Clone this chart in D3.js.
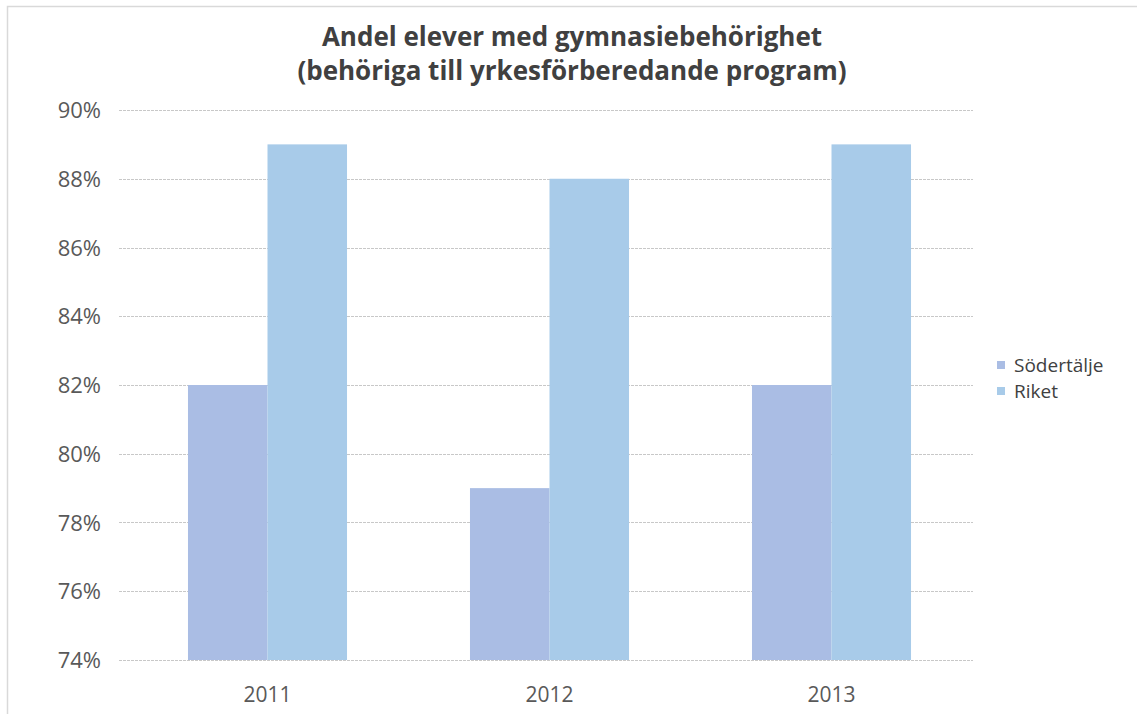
<!DOCTYPE html>
<html>
<head>
<meta charset="utf-8">
<script src="https://cdn.jsdelivr.net/npm/d3@7"></script>
<style>
  html, body { margin: 0; padding: 0; background: #fff; }
  svg { display: block; }
</style>
</head>
<body>
<svg id="chart" width="1137" height="714"></svg>
<script>
const categories = ["2011", "2012", "2013"];
const seriesNames = ["Södertälje", "Riket"];
const sodertalje = [0.82, 0.79, 0.82];
const riket = [0.89, 0.88, 0.89];
const yTicks = [0.74, 0.76, 0.78, 0.80, 0.82, 0.84, 0.86, 0.88, 0.90];
const titleLines = ["Andel elever med gymnasiebehörighet", "(behöriga till yrkesförberedande program)"];

const colors = { "Södertälje": "#aabde4", "Riket": "#a8cbe9" };
const font = "'Open Sans', Lato, sans-serif";

const svg = d3.select("#chart");
const W = 1137, H = 714;

// outer frame (top/left edges visible)
svg.append("rect").attr("x", 7.5).attr("y", 6.5).attr("width", W + 10).attr("height", H + 10)
  .attr("fill", "#fff").attr("stroke", "#d9d9d9").attr("stroke-width", 1.5);

const x0 = d3.scaleBand().domain(categories).range([126.5, 972.5])
  .paddingInner(0.436).paddingOuter(0.218);
const x1 = d3.scaleBand().domain(seriesNames).range([0, x0.bandwidth()]);
const y = d3.scaleLinear().domain([0.74, 0.90]).range([660, 110]);

// gridlines
const grid = svg.append("g");
grid.selectAll("line").data(yTicks).join("line")
  .attr("x1", 119).attr("x2", 973)
  .attr("y1", d => Math.round(y(d)) + 0.5).attr("y2", d => Math.round(y(d)) + 0.5)
  .attr("stroke", "#c8c8c8").attr("stroke-width", 1).attr("stroke-dasharray", "3,1");

// y axis labels
const yAxis = d3.axisLeft(y).tickValues(yTicks).tickFormat(d3.format(".0%")).tickSize(0).tickPadding(0);
const yg = svg.append("g").attr("transform", "translate(101,0)").call(yAxis);
yg.select(".domain").remove();
yg.selectAll("text").attr("font-family", font).attr("font-size", 22).attr("fill", "#595959").attr("dy", "0.35em");

// bars
const data = categories.map((c, i) => ({ cat: c, vals: [
  { name: "Södertälje", v: sodertalje[i] }, { name: "Riket", v: riket[i] } ] }));
const groups = svg.append("g").selectAll("g").data(data).join("g")
  .attr("transform", d => `translate(${x0(d.cat)},0)`);
groups.selectAll("rect").data(d => d.vals).join("rect")
  .attr("x", d => x1(d.name))
  .attr("width", x1.bandwidth())
  .attr("y", d => y(d.v))
  .attr("height", d => y(0.74) - y(d.v))
  .attr("fill", d => colors[d.name]);

// x axis labels
const xAxis = d3.axisBottom(x0).tickSize(0).tickPadding(0);
const xg = svg.append("g").attr("transform", "translate(0,702)").call(xAxis);
xg.select(".domain").remove();
xg.selectAll("text").attr("font-family", font).attr("font-size", 21).attr("fill", "#595959").attr("dy", "0");

// title
svg.append("g").selectAll("text").data(titleLines).join("text")
  .attr("x", 572).attr("y", (d, i) => 46 + i * 34)
  .attr("text-anchor", "middle")
  .attr("font-family", font).attr("font-weight", "bold").attr("font-size", 26)
  .attr("fill", "#404040")
  .text(d => d);

// legend
const legend = svg.append("g").selectAll("g").data(seriesNames).join("g")
  .attr("transform", (d, i) => `translate(997,${365 + i * 26})`);
legend.append("rect").attr("x", 0).attr("y", -4).attr("width", 8).attr("height", 8)
  .attr("fill", d => colors[d]);
legend.append("text").attr("x", 17).attr("y", 0).attr("dy", "0.35em")
  .attr("font-family", font).attr("font-size", 19).attr("fill", "#404040")
  .text(d => d);
</script>
</body>
</html>
